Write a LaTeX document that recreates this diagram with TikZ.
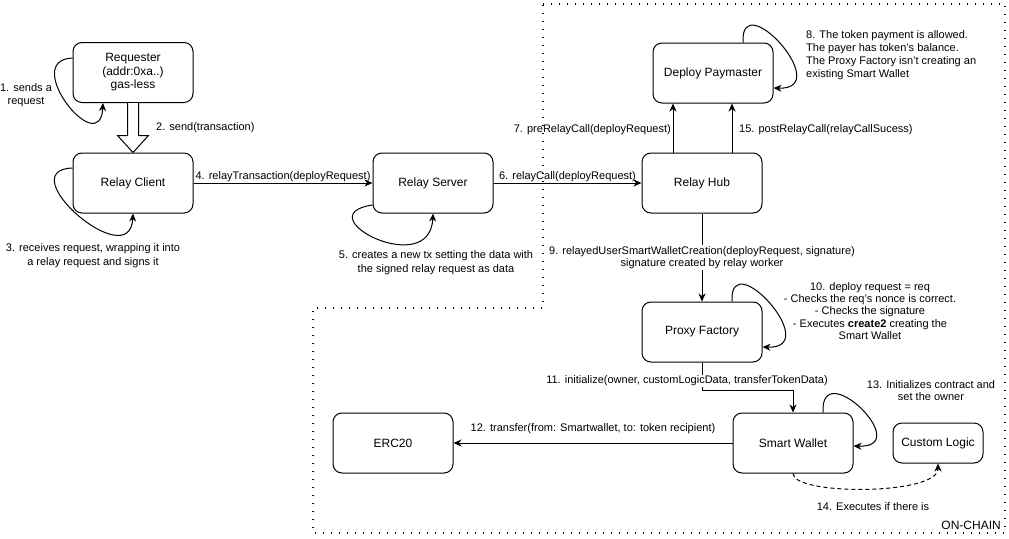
\documentclass[tikz,border=0pt]{standalone}
\usepackage{fontspec}
\setmainfont{Liberation Sans}
\usetikzlibrary{arrows.meta,calc}
\begin{document}
\begin{tikzpicture}[x=1pt,y=-1pt,
  box/.style={draw, rounded corners=9pt, minimum width=120pt, minimum height=60pt,
    align=center, font=\fontsize{12}{13.5}\selectfont, line width=1pt},
  arr/.style={-{Stealth[length=8pt,width=7pt,inset=2.5pt]}, line width=1pt},
  lbl/.style={font=\fontsize{11}{12.5}\selectfont, align=center, inner sep=1pt},
  wlbl/.style={lbl, fill=white},
  zone/.style={line width=1.4pt, dash pattern=on 1.4pt off 6.6pt}]
\useasboundingbox (0,0) rectangle (1009,538);

% on-chain region
\draw[zone] (543,4) -- (1005,4) -- (1005,533) -- (313,533) -- (313,308) -- (543,308) -- cycle;
\node[lbl, anchor=east, font=\fontsize{12}{14}\selectfont] (onchain) at (1002,525) {ON-CHAIN};

% components
\node[box] (req) at (133,72.5) {Requester\\(addr:0xa..)\\gas-less};
\node[box] (rc)  at (133,183) {Relay Client};
\node[box] (rs)  at (433,183) {Relay Server};
\node[box] (hub) at (702,183) {Relay Hub};
\node[box] (dp)  at (713,73)  {Deploy Paymaster};
\node[box] (pf)  at (702,332) {Proxy Factory};
\node[box] (erc) at (393,443) {ERC20};
\node[box] (sw)  at (793,443) {Smart Wallet};
\node[box, minimum width=90pt, minimum height=40pt] (cl) at (938,443) {Custom Logic};

% 1. self call of the requester
\draw[arr] ([yshift=14.5pt]req.west) .. controls +(-53,2) and +(-3,58) .. ([xshift=-30pt]req.south);
\node[lbl] (l1) at (26,95) {1. sends a\\request};

% 2. hollow block arrow
\draw[line width=1pt, fill=white, line join=miter]
  ($(req.south)+(-5.5,0)$) -- ($(rc.north)+(-5.5,-17)$) -- ($(rc.north)+(-15.5,-17)$)
  -- (rc.north) -- ($(rc.north)+(15.5,-17)$) -- ($(rc.north)+(5.5,-17)$) -- ($(req.south)+(5.5,0)$);
\node[lbl, anchor=west] (l2) at (155,128) {2. send(transaction)};

% 3. relay client wraps and signs
\draw[arr] ([yshift=15pt]rc.west) .. controls +(-63,2) and +(-3,62) .. (rc.south);
\node[lbl, font=\fontsize{11}{14}\selectfont] (l3) at (93,256) {3. receives request, wrapping it into\\a relay request and signs it};

% 4. client to server
\draw[arr] (rc) -- node[lbl, above] (l4) {4. relayTransaction(deployRequest)} (rs);

% 5. relay server builds the tx
\draw[arr] ([yshift=-22pt]rs.west) .. controls +(-68,10) and +(-3,67) .. (rs.south);
\node[lbl, font=\fontsize{11}{14}\selectfont] (l5) at (436,263) {5. creates a new tx setting the data with\\the signed relay request as data};

% 6. server to hub
\draw[arr] (rs) -- node[lbl, above] (l6) {6. relayCall(deployRequest)} (hub);

% 7 and 15. hub to paymaster
\draw[arr] ([xshift=-29pt]hub.north) -- ([xshift=-29pt]hub.north |- dp.south);
\draw[arr] ([xshift=30pt]hub.north) -- ([xshift=30pt]hub.north |- dp.south);
\node[lbl, anchor=east] (l7) at (672,130) {7. preRelayCall(deployRequest)};
\node[lbl, anchor=west] (l15) at (738,130) {15. postRelayCall(relayCallSucess)};

% 8. paymaster checks
\draw[arr] ([xshift=30pt]dp.north) .. controls +(-3,-58) and +(62,2) .. ([yshift=-15pt]dp.east);
\node[lbl, anchor=west, align=left, font=\fontsize{11}{13}\selectfont] (l8) at (805,55.5)
  {8. The token payment is allowed.\\The payer has token's balance.\\The Proxy Factory isn't creating an\\existing Smart Wallet};

% 9. hub to proxy factory
\draw[arr] (hub.south) -- node[wlbl] (l9) {9. relayedUserSmartWalletCreation(deployRequest, signature)\\signature created by relay worker} (hub.south |- pf.north);

% 10. proxy factory checks and deploys
\draw[arr] ([xshift=30pt]pf.north) .. controls +(-3,-58) and +(62,2) .. ([yshift=-15pt]pf.east);
\node[lbl, font=\fontsize{11}{12.2}\selectfont] (l10) at (870,311)
  {10. deploy request = req\\- Checks the req's nonce is correct.\\- Checks the signature\\- Executes \textbf{create2} creating the\\Smart Wallet};

% 11. factory initializes the wallet
\draw[arr] (pf.south) -- ++(0,28) coordinate (bend) -| (sw.north);
\node[wlbl] (l11) at (687,381) {11. initialize(owner, customLogicData, transferTokenData)};

% 12. wallet to token
\draw[arr] (sw) -- node[lbl, above, yshift=8pt] (l12) {12. transfer(from: Smartwallet, to: token recipient)} (erc);

% 13. wallet initialization
\draw[arr] ([xshift=30pt]sw.north) .. controls +(-3,-58) and +(62,2) .. ([yshift=-3pt]sw.east);
\node[lbl, font=\fontsize{11}{12}\selectfont] (l13) at (931,391) {13. Initializes contract and\\set the owner};

% 14. optional custom logic
\draw[arr, dash pattern=on 4pt off 3pt] (sw.south) .. controls +(0,22) and +(0,32) .. (cl.south);
\node[lbl] (l14) at (873,507) {14. Executes if there is};
\end{tikzpicture}
\end{document}
